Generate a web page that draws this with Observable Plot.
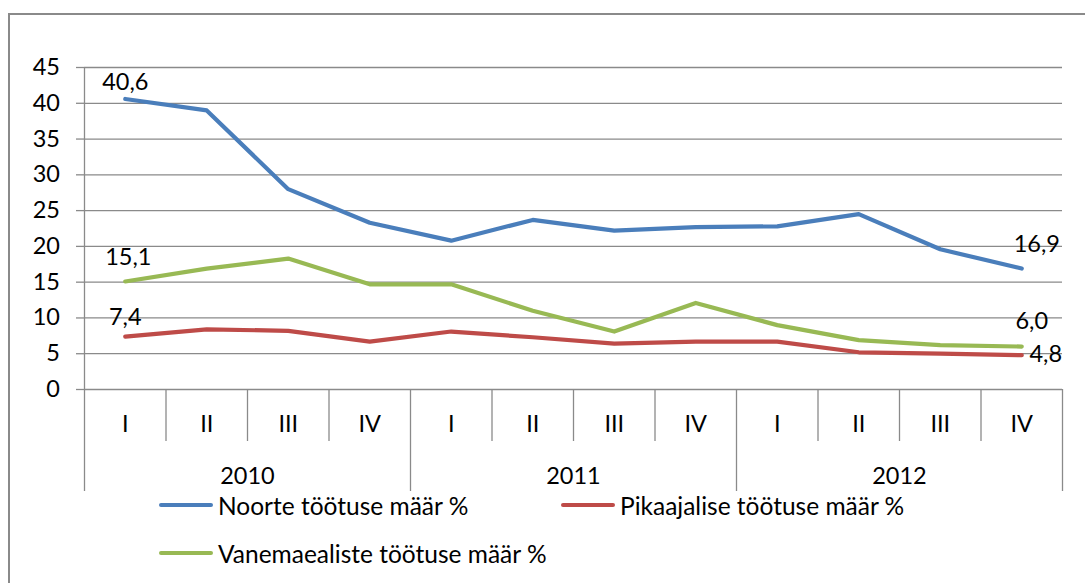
<!DOCTYPE html>
<html>
<head>
<meta charset="utf-8">
<script src="https://cdn.jsdelivr.net/npm/d3@7"></script>
<script src="https://cdn.jsdelivr.net/npm/@observablehq/plot@0.6"></script>
<style>
  html, body { margin: 0; padding: 0; background: #fff; }
  #wrap { position: relative; width: 1085px; height: 583px; overflow: hidden; font-family: Lato, "Open Sans", sans-serif; }
  #frame { position: absolute; left: 8px; top: 13px; width: 1200px; height: 700px; border: 2px solid #8a8a8a; box-sizing: border-box; }
  #chart { position: absolute; left: 0; top: 0; }
  .leg { position: absolute; display: flex; align-items: center; font-size: 24.5px; color: #000; white-space: nowrap; }
  .sw { width: 54px; height: 4px; border-radius: 2px; margin-right: 5px; }
</style>
</head>
<body>
<div id="wrap">
  <div id="frame"></div>
  <div id="chart"></div>
  <div id="legend"></div>
</div>
<script>
const quarters = ["I", "II", "III", "IV", "I", "II", "III", "IV", "I", "II", "III", "IV"];
const quarterYears = ["2010", "2010", "2010", "2010", "2011", "2011", "2011", "2011", "2012", "2012", "2012", "2012"];
const years = ["2010", "2011", "2012"];
const noorte = [40.6, 39.0, 28.0, 23.3, 20.8, 23.7, 22.2, 22.7, 22.8, 24.5, 19.6, 16.9];
const pikaajalise = [7.4, 8.4, 8.2, 6.7, 8.1, 7.3, 6.4, 6.7, 6.7, 5.2, 5.0, 4.8];
const vanemaealiste = [15.1, 16.9, 18.3, 14.7, 14.7, 11.0, 8.1, 12.1, 9.0, 6.9, 6.2, 6.0];
const seriesNames = ["Noorte töötuse määr %", "Pikaajalise töötuse määr %", "Vanemaealiste töötuse määr %"];
const seriesColors = ["#4A7EBB", "#BE4B48", "#98B954"];
const yTicks = [0, 5, 10, 15, 20, 25, 30, 35, 40, 45];

const seriesValues = [noorte, pikaajalise, vanemaealiste];
const rows = seriesValues.flatMap((vals, s) =>
  vals.map((v, i) => ({i, quarter: quarters[i], year: quarterYears[i], value: v, series: seriesNames[s]})));

const idx = d3.range(quarters.length);
const yearStarts = years.map(y => quarterYears.indexOf(y));
const yearEnds = years.map(y => quarterYears.lastIndexOf(y));
const yearCenters = years.map((y, k) => (yearStarts[k] + yearEnds[k]) / 2);
const yearBounds = [yearStarts[0] - 0.5, ...yearEnds.map(e => e + 0.5)];
const quarterBounds = idx.slice(1).map(i => i - 0.5).filter(b => !yearBounds.includes(b));

const fmt = v => v.toFixed(1).replace(".", ",");
const grid = "#8a8a8a";
const fs = 23.5;
const last = quarters.length - 1;
function label(series, i, dx, dy) {
  const d = rows.filter(r => r.series === series && r.i === i);
  return Plot.text(d, {x: "i", y: "value", text: r => fmt(r.value), dx, dy, fontSize: fs, fill: "#000"});
}

const chart = Plot.plot({
  width: 1085,
  height: 500,
  marginTop: 67,
  marginBottom: 111,
  marginLeft: 84,
  marginRight: 23,
  style: {fontFamily: "Lato, 'Open Sans', sans-serif", fontSize: fs + "px", color: "#000", background: "transparent"},
  x: {type: "linear", domain: [-0.5, last + 0.5]},
  y: {domain: [0, 45]},
  color: {domain: seriesNames, range: seriesColors},
  marks: [
    Plot.gridY(yTicks, {stroke: grid, strokeOpacity: 1, strokeWidth: 1.3}),
    Plot.axisY(yTicks, {tickSize: 8, tickPadding: 16.5, stroke: grid, strokeWidth: 1.3, fontSize: fs, fill: "#000", label: null}),
    Plot.ruleX([yearBounds[0]], {stroke: grid, strokeWidth: 1.3}),
    Plot.axisX(quarterBounds, {tickSize: 52, tickFormat: () => "", stroke: grid, strokeWidth: 1.3, label: null}),
    Plot.axisX(yearBounds, {tickSize: 102, tickFormat: () => "", stroke: grid, strokeWidth: 1.3, label: null}),
    Plot.axisX(idx, {tickSize: 0, tickPadding: 25.5, tickFormat: i => quarters[i], fontSize: fs, fill: "#000", label: null}),
    Plot.axisX(yearCenters, {tickSize: 0, tickPadding: 78, tickFormat: c => years[yearCenters.indexOf(c)], fontSize: fs, fill: "#000", label: null}),
    Plot.line(rows, {x: "i", y: "value", z: "series", stroke: "series", strokeWidth: 4.2, strokeLinejoin: "round", strokeLinecap: "round"}),
    label(seriesNames[0], 0, 0, -17),
    label(seriesNames[2], 0, 3, -24),
    label(seriesNames[1], 0, 0, -19),
    label(seriesNames[0], last, 15, -24),
    label(seriesNames[2], last, 10, -25),
    label(seriesNames[1], last, 24, -1)
  ]
});
document.getElementById("chart").appendChild(chart);

const legendPos = [[159, 505], [561, 505], [159, 553]];
const legend = document.getElementById("legend");
seriesNames.forEach((name, k) => {
  const el = document.createElement("div");
  el.className = "leg";
  el.style.left = legendPos[k][0] + "px";
  el.style.top = (legendPos[k][1] - 15) + "px";
  el.style.height = "30px";
  const sw = document.createElement("div");
  sw.className = "sw";
  sw.style.background = seriesColors[k];
  const t = document.createElement("span");
  t.textContent = name;
  el.appendChild(sw);
  el.appendChild(t);
  legend.appendChild(el);
});
</script>
</body>
</html>
